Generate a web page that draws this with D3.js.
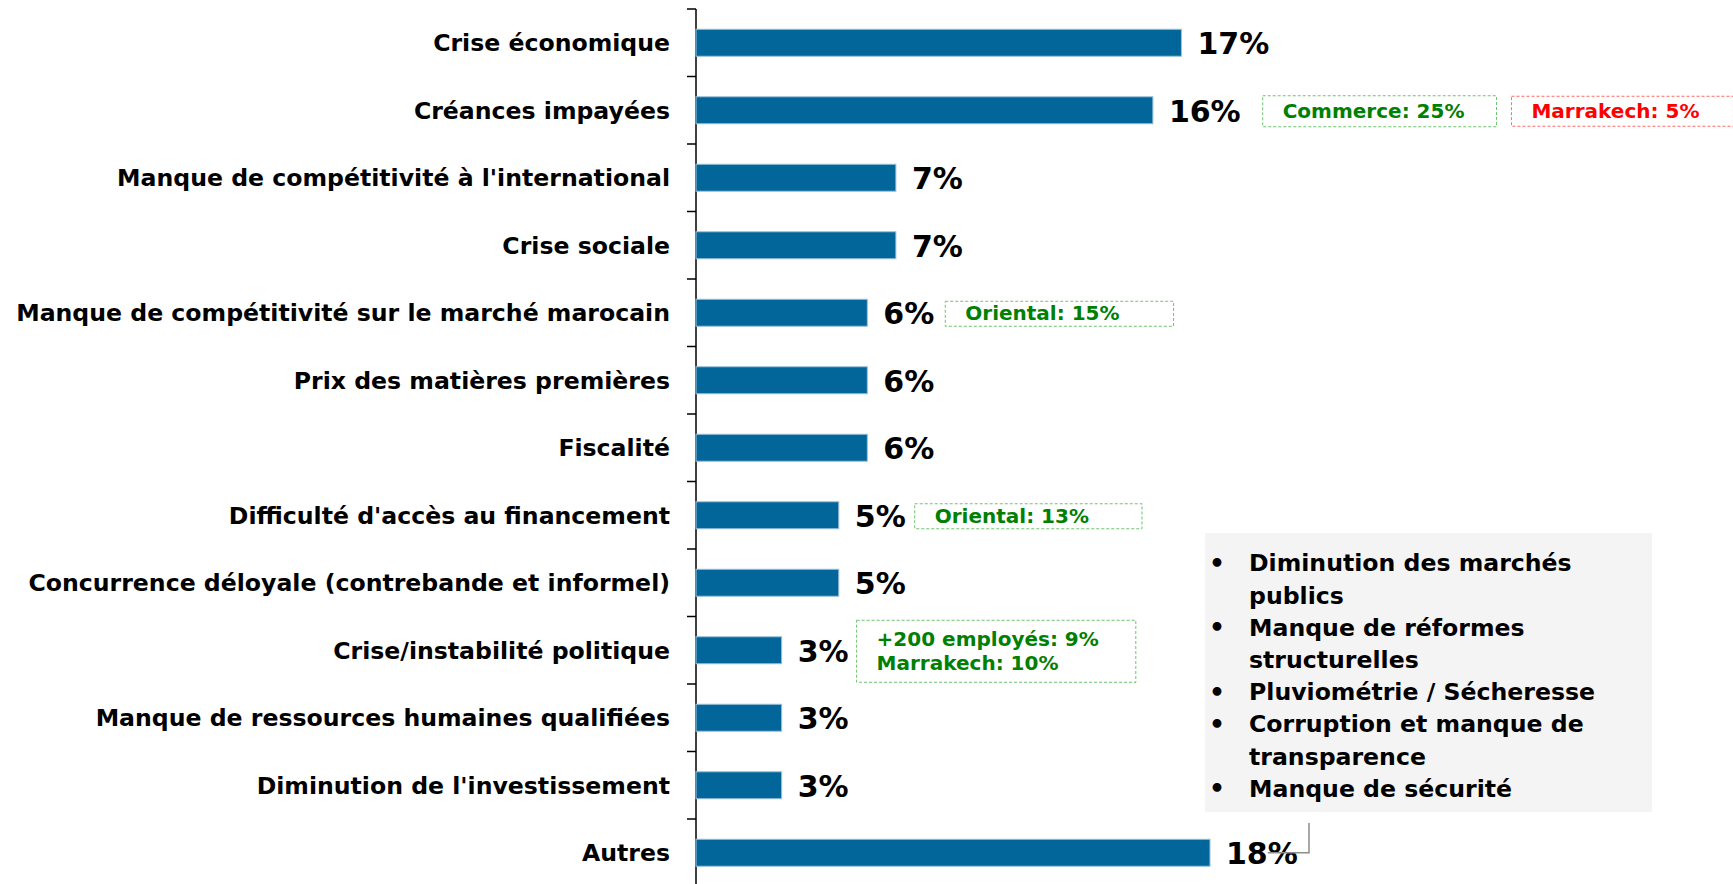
<!DOCTYPE html>
<html>
<head>
<meta charset="utf-8">
<script src="https://cdn.jsdelivr.net/npm/d3@7"></script>
<style>
	body { margin:0; background:#fff; }
	text { font-family: "DejaVu Sans", Verdana, sans-serif; font-weight: bold; }
</style>
</head>
<body>
<svg id="chart" width="1733" height="884"></svg>
<script>
// categories and values (%)
var categories = [
	"Crise économique",
	"Créances impayées",
	"Manque de compétitivité à l'international",
	"Crise sociale",
	"Manque de compétitivité sur le marché marocain",
	"Prix des matières premières",
	"Fiscalité",
	"Difficulté d'accès au financement",
	"Concurrence déloyale (contrebande et informel)",
	"Crise/instabilité politique",
	"Manque de ressources humaines qualifiées",
	"Diminution de l'investissement",
	"Autres"
];
var values = [17, 16, 7, 7, 6, 6, 6, 5, 5, 3, 3, 3, 18];

// side notes
var noteCategories = [
	"Créances impayées",
	"Créances impayées",
	"Manque de compétitivité sur le marché marocain",
	"Difficulté d'accès au financement",
	"Crise/instabilité politique"
];
var noteTexts = [
	["Commerce: 25%"],
	["Marrakech: 5%"],
	["Oriental: 15%"],
	["Oriental: 13%"],
	["+200 employés: 9%", "Marrakech: 10%"]
];
var noteKinds = ["high", "low", "high", "high", "high"];

// the "Autres" detail list
var otherItems = [
	["Diminution des marchés", "publics"],
	["Manque de réformes", "structurelles"],
	["Pluviométrie / Sécheresse"],
	["Corruption et manque de", "transparence"],
	["Manque de sécurité"]
];

var svg = d3.select("#chart");
var axisX = 696, topY = 9, step = 67.5;

var x = d3.scaleLinear().domain([0, 18]).range([axisX, axisX + 514]);
var y = d3.scaleBand()
	.domain(categories)
	.range([topY, topY + step * categories.length])
	.paddingInner(0.6)
	.paddingOuter(0.3);

// axis line + ticks at band boundaries
svg.append("line")
	.attr("x1", axisX).attr("x2", axisX)
	.attr("y1", topY).attr("y2", 884)
	.attr("stroke", "#000").attr("stroke-width", 1.5);

svg.selectAll(".tick")
	.data(d3.range(categories.length + 1))
	.enter().append("line")
	.attr("x1", axisX - 9).attr("x2", axisX)
	.attr("y1", function (d){ return topY + d * y.step() })
	.attr("y2", function (d){ return topY + d * y.step() })
	.attr("stroke", "#000").attr("stroke-width", 1.5);

var mid = function (c){ return y(c) + y.bandwidth() / 2 };

svg.selectAll(".cat").data(categories)
	.enter().append("text")
	.attr("x", axisX - 26)
	.attr("y", function (d){ return mid(d) })
	.attr("dy", "0.36em")
	.attr("text-anchor", "end")
	.style("font-size", "23.6px")
	.text(function (d){ return d });

svg.selectAll(".bar").data(values)
	.enter().append("rect")
	.attr("x", x(0))
	.attr("y", function (d, i){ return y(categories[i]) })
	.attr("width", function (d){ return x(d) - x(0) })
	.attr("height", y.bandwidth())
	.attr("fill", "#03669a")
	.attr("stroke", "#9dc1d8")
	.attr("stroke-width", 1);

var valueLabels = svg.selectAll(".val").data(values)
	.enter().append("text")
	.attr("x", function (d){ return x(d) + 16 })
	.attr("y", function (d, i){ return mid(categories[i]) })
	.attr("dy", "0.38em")
	.style("font-size", "30px")
	.text(function (d){ return d + "%" });

var labelEnd = {};
valueLabels.each(function (d, i){
	labelEnd[categories[i]] = x(d) + 16 + this.getComputedTextLength();
});

// note boxes
var noteGap = [22, 15, 11, 9, 8];
var noteRightPad = [32, 34, 54, 53, 37];
var noteH = [31, 30, 25, 25, 62];
var prevEnd = {};
noteTexts.forEach(function (lines, i){
	var cat = noteCategories[i];
	var color = noteKinds[i] == "high" ? "#008000" : "#ff0000";
	var border = noteKinds[i] == "high" ? "#6cc46c" : "#ff6b6b";
	var bx = (prevEnd[cat] || labelEnd[cat]) + noteGap[i];
	var g = svg.append("g");
	var lh = 24;
	var h = noteH[i];
	var cy = mid(cat);
	var rect = g.append("rect")
		.attr("y", cy - h / 2 + 1)
		.attr("height", h)
		.attr("fill", "none")
		.attr("stroke", border)
		.attr("stroke-width", 1)
		.attr("stroke-dasharray", "3,2");
	var maxW = 0;
	lines.forEach(function (t, k){
		var tx = g.append("text")
			.attr("x", bx + 20)
			.attr("y", cy + (k - (lines.length - 1) / 2) * lh)
			.attr("dy", "0.38em")
			.attr("fill", color)
			.style("font-size", "20px")
			.text(t);
		maxW = Math.max(maxW, tx.node().getComputedTextLength());
	});
	var w = 20 + maxW + noteRightPad[i];
	rect.attr("x", bx).attr("width", w);
	prevEnd[cat] = bx + w;
});

// grey box listing other answers
var boxX = 1205, boxY = 533, boxW = 447, boxH = 279;
svg.append("rect")
	.attr("x", boxX).attr("y", boxY)
	.attr("width", boxW).attr("height", boxH)
	.attr("fill", "#f4f4f4");

var lineH = 32.2, ly = boxY + 30;
otherItems.forEach(function (item){
	svg.append("text")
		.attr("x", boxX + 4).attr("y", ly)
		.attr("dy", "0.36em")
		.style("font-size", "25px")
		.text("•");
	item.forEach(function (t){
		svg.append("text")
			.attr("x", boxX + 44).attr("y", ly)
			.attr("dy", "0.36em")
			.style("font-size", "23.6px")
			.text(t);
		ly += lineH;
	});
});

// connector to the "Autres" bar
var last = categories[categories.length - 1];
var cx = 1309;
svg.append("path")
	.attr("d", d3.line()([[cx, boxY + boxH + 11], [cx, mid(last)], [labelEnd[last] - 30, mid(last)]]))
	.attr("fill", "none")
	.attr("stroke", "#8c8c8c")
	.attr("stroke-width", 1.5);
</script>
</body>
</html>
